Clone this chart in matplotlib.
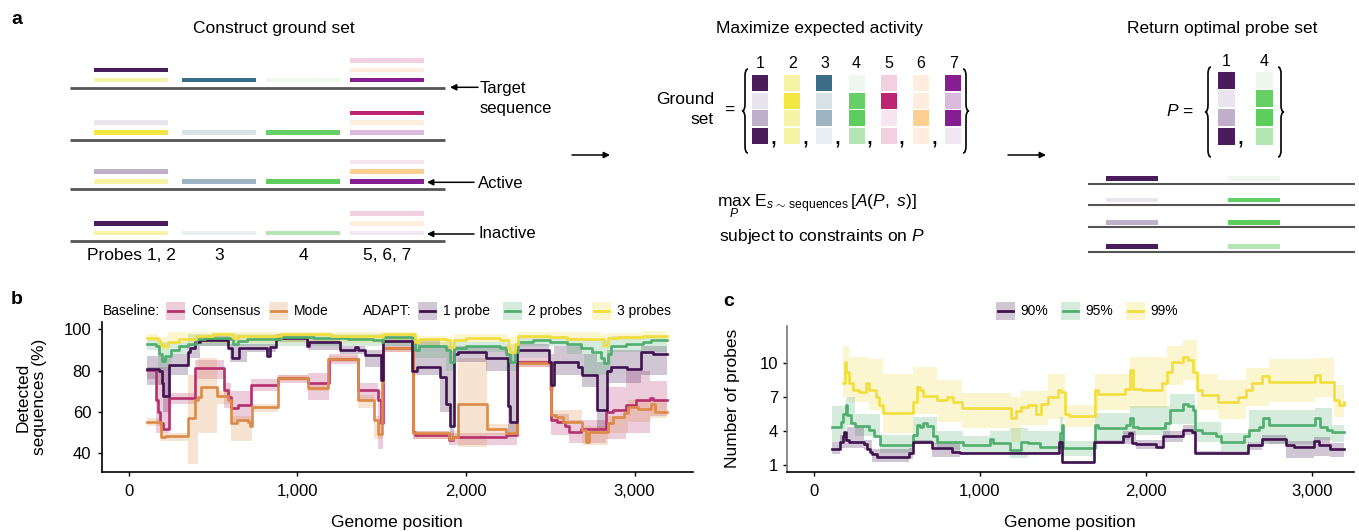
import matplotlib
matplotlib.use("Agg")
import matplotlib.pyplot as plt
from matplotlib.patches import Rectangle, PathPatch
from matplotlib.path import Path

plt.rcParams["font.family"] = ["Liberation Sans", "DejaVu Sans"]
plt.rcParams["mathtext.fontset"] = "custom"
plt.rcParams["mathtext.rm"] = "Liberation Sans"
plt.rcParams["mathtext.it"] = "Liberation Sans:italic"
plt.rcParams["mathtext.bf"] = "Liberation Sans:bold"

# ---------------- panel a: probe activity per target sequence ----------------
probe_ids = [1, 2, 3, 4, 5, 6, 7]
# rows = target sequences, columns = probes 1..7 (darker = more active)
probe_colors = [
    ["#4a1c5b", "#f7f3a6", "#3b6e86", "#eef8ee", "#f2d0e2", "#ffeedd", "#861e91"],
    ["#e9e4ee", "#f2e640", "#d8e3e8", "#66cf66", "#bd2471", "#ffeedd", "#dbbade"],
    ["#bfafc8", "#f7f3a6", "#9db5c2", "#5dcd5e", "#f7e6ef", "#ffce92", "#861e91"],
    ["#4a1c5b", "#f7f3a6", "#e9eef2", "#b3e6b2", "#f2d0e2", "#ffeedd", "#f3e6f3"],
]
# (site on the target, stack level) of each probe
probe_slot = {1: (0, 1), 2: (0, 0), 3: (1, 0), 4: (2, 0), 5: (3, 2), 6: (3, 1), 7: (3, 0)}
site_labels = ["Probes 1, 2", "3", "4", "5, 6, 7"]
chosen = [1, 4]

# ---------------- panel b: detected sequences (%) ----------------
tick_pos = [0, 1000, 2000, 3000]
tick_lab = ["0", "1,000", "2,000", "3,000"]

one_x = [110, 180, 195, 204, 235, 350, 362, 390, 420, 590, 610, 655, 820, 835, 870, 890, 1058, 1070, 1250, 1340,
         1360, 1400, 1495, 1510, 1680, 1710, 1845, 1880, 1905, 1930, 1950, 2120, 2250, 2262, 2305, 2490, 2505,
         2520, 2665, 2690, 2780, 2835, 2860, 2955, 3040, 3110, 3190]
one_y = [81, 80, 74, 67.5, 82.5, 89, 91, 94, 95, 91, 86, 91, 87, 91.5, 95.5, 96, 92, 94, 90, 91.3,
         90, 87.6, 75.5, 94.5, 80, 82, 77, 64, 53, 88, 89, 86, 63, 55, 90, 84, 73,
         84, 82, 78, 61, 80, 82, 81, 89, 88, 88]
one_bx = [110, 200, 250, 350, 420, 600, 700, 870, 1060, 1250, 1400, 1500, 1510, 1680, 1845, 1905, 1930, 2120,
          2250, 2305, 2490, 2520, 2690, 2780, 2835, 3040, 3190]
one_lo = [73, 60, 78, 86, 92, 84, 89, 94, 90, 88, 82, 70, 92, 78, 60, 48, 84, 80, 50, 86, 70, 78, 72, 52, 74, 78, 78]
one_hi = [87, 86, 88, 93, 97, 93, 93, 97.5, 96, 92, 90, 91, 96, 95, 92, 90, 92, 92, 88, 93, 88, 92, 88, 84, 90, 92, 92]

two_x = [110, 160, 180, 195, 215, 250, 300, 350, 400, 450, 600, 620, 650, 700, 900, 1100, 1300, 1450, 1500, 1510,
         1680, 1695, 1720, 1800, 1880, 1905, 1930, 2000, 2200, 2240, 2262, 2290, 2310, 2400, 2500, 2600, 2680,
         2750, 2800, 2820, 2840, 2860, 2950, 3050, 3100, 3190]
two_y = [93, 92, 88, 84.5, 87, 90, 92, 93, 95.5, 96, 95.5, 93, 94.5, 95.5, 96.5, 96, 95.5, 95, 94, 96.5,
         96, 90, 92, 92, 90, 84, 91, 92, 91, 88, 84, 89, 94, 95, 94, 93, 91,
         89, 86, 83.5, 88, 92, 93, 94, 95, 95]
two_bx = [110, 170, 250, 350, 1680, 1695, 1880, 1930, 2240, 2310, 2600, 2700, 2860, 3190]
two_lo = [90, 80, 88, 92, 94, 86, 80, 89, 80, 92, 88, 78, 89, 89]
two_hi = [95, 94, 94, 97.5, 97.5, 94, 94, 94, 93, 97, 96, 95, 97, 97]

three_x = [110, 170, 185, 200, 230, 300, 400, 500, 620, 650, 900, 1200, 1500, 1510, 1680, 1695, 1720, 1880, 1905,
           1930, 2000, 2200, 2250, 2262, 2290, 2310, 2500, 2600, 2800, 2820, 2840, 2900, 3050, 3190]
three_y = [96, 95, 93, 92, 94, 95.5, 97, 97.5, 96, 97, 97.5, 97, 96.5, 97.5, 97.5, 94, 95.5, 95, 91.5,
           95, 96, 95, 91, 89, 93, 97, 96.5, 95.5, 95.5, 92.5, 96, 96.5, 97, 97]
three_bx = [110, 170, 230, 1680, 1695, 1880, 1930, 2250, 2310, 2800, 2840, 3050, 3190]
three_lo = [94.5, 90, 93.5, 96, 92.5, 89.5, 94, 87.5, 95.5, 91, 95, 95.5, 95.5]
three_hi = [97.5, 96.5, 98.5, 99, 97, 96.5, 97.5, 96.5, 98.5, 97.5, 98, 99, 99]

cons_x = [110, 160, 175, 185, 200, 240, 390, 565, 585, 605, 645, 725, 885, 1060, 1190, 1360, 1475, 1495, 1505,
          1685, 1695, 1900, 1920, 2240, 2305, 2505, 2540, 2590, 2610, 2680, 2830, 2870, 2950, 3010, 3090, 3110, 3190]
cons_y = [80.3, 65.8, 60, 54.5, 52, 66.6, 81.5, 70.6, 67.4, 61.8, 63.4, 73.1, 76.3, 74.2, 85.6, 70.6, 65.8, 54.5, 90.8,
          50.5, 49, 46.5, 48, 49, 84, 56, 55, 53, 50.5, 52, 60, 61, 63.4, 65.8, 67, 66, 66]
cons_bx = [110, 160, 240, 390, 565, 605, 725, 885, 1060, 1190, 1360, 1475, 1505, 1685, 1900, 2305, 2505, 2610,
           2830, 2950, 3090, 3190]
cons_lo = [76, 50, 64, 76, 62, 55, 70, 74, 66, 83, 66, 42, 89, 47, 44, 82, 49, 45, 47, 50, 58, 58]
cons_hi = [82, 82, 69, 85, 74, 70, 76, 78, 79, 88, 74, 70, 92, 51, 50, 86, 59, 56, 72, 80, 75, 75]

mode_x = [110, 190, 212, 350, 390, 410, 430, 525, 590, 605, 640, 705, 718, 728, 885, 1062, 1180, 1360, 1455, 1478,
          1500, 1507, 1685, 1705, 1900, 1920, 1950, 2125, 2240, 2305, 2505, 2535, 2575, 2690, 2712, 2730, 2840,
          2870, 2940, 2960, 3020, 3100, 3120, 3190]
mode_y = [55, 48, 48.5, 57, 65.8, 67.4, 72, 67.7, 65.8, 54.8, 56, 55, 53, 62.6, 76.3, 71.5, 85.6, 66, 56, 49.4,
          74.7, 90.8, 49.7, 50, 47, 48, 64, 52, 50, 83.9, 58.5, 57.7, 55.3, 51.3, 45.6, 50.5, 54.5,
          57.7, 59.7, 62.6, 61.3, 64, 60, 60]
mode_bx = [110, 190, 350, 410, 525, 605, 728, 885, 1062, 1180, 1360, 1455, 1507, 1685, 1950, 2125, 2305, 2505,
           2690, 2840, 2960, 3100, 3190]
mode_lo = [53, 46, 35, 50, 64, 46, 60, 75, 70, 84, 62, 47, 89, 47, 43, 49, 82, 55, 44, 50, 55, 57, 57]
mode_hi = [57, 50, 78, 86, 70, 58, 64, 78, 73, 87, 68, 58, 92, 51, 86, 54, 85, 61, 53, 58, 66, 66, 66]

# ---------------- panel c: number of probes ----------------
c90_x = [113, 160, 175, 185, 197, 215, 300, 320, 340, 350, 380, 575, 595, 715, 830, 880, 1475, 1492, 1690, 1860,
         1900, 1915, 1940, 2060, 2105, 2225, 2275, 2295, 2615, 2700, 2845, 2890, 3010, 3040, 3110, 3190]
c90_y = [2.4, 3.0, 3.5, 3.9, 3.2, 3.0, 2.8, 2.4, 2.1, 1.95, 1.65, 2.0, 3.0, 2.45, 2.15, 2.0, 3.0, 1.2, 3.0, 3.5,
         3.8, 2.9, 2.8, 2.6, 3.5, 4.1, 3.9, 2.05, 2.7, 3.3, 2.7, 2.6, 3.1, 2.7, 2.4, 2.4]
c90_bx = [113, 160, 200, 300, 350, 575, 595, 715, 880, 1475, 1492, 1690, 1860, 1940, 2105, 2225, 2295, 2615, 2700,
          2845, 3010, 3110, 3190]
c90_lo = [1.9, 2.5, 2.5, 2.3, 1.2, 1.5, 2.8, 1.7, 1.9, 2.8, 1.1, 2.8, 2.8, 2.4, 3.0, 3.6, 1.9, 2.3, 2.8, 1.6, 1.8, 1.7, 1.7]
c90_hi = [3.0, 3.6, 4.3, 3.2, 2.4, 2.5, 3.2, 2.9, 2.1, 3.2, 1.3, 3.2, 4.0, 3.2, 4.0, 4.5, 2.2, 3.0, 3.6, 3.1, 3.4, 2.9, 2.9]

c95_x = [113, 165, 178, 192, 200, 225, 250, 330, 360, 400, 600, 620, 640, 660, 680, 720, 740, 900, 1060, 1080,
         1180, 1250, 1290, 1360, 1480, 1492, 1502, 1692, 1712, 1880, 1905, 1925, 1955, 2115, 2145, 2225, 2255,
         2285, 2298, 2338, 2420, 2450, 2590, 2620, 2680, 2708, 2740, 3020, 3050, 3092, 3122, 3190]
c95_y = [4.3, 4.8, 5.5, 6.3, 5.4, 4.65, 4.4, 4.06, 3.5, 2.7, 3.6, 4.5, 4.35, 4.65, 4.4, 3.5, 3.0, 2.7, 3.3, 2.9,
         2.3, 3.0, 2.9, 2.6, 3.8, 4.5, 2.5, 4.5, 4.2, 4.5, 5.1, 4.35, 4.2, 4.65, 5.8, 6.4, 6.2,
         5.8, 4.06, 3.76, 3.5, 3.0, 3.5, 4.06, 4.35, 5.1, 4.5, 5.1, 4.35, 4.06, 3.9, 3.9]
c95_bx = [113, 192, 250, 400, 600, 740, 900, 1060, 1180, 1290, 1480, 1502, 1692, 1905, 2145, 2298, 2450, 2620,
          2740, 3020, 3122, 3190]
c95_lo = [3.0, 4.5, 3.5, 2.0, 2.8, 2.3, 2.0, 2.0, 1.6, 2.0, 3.0, 1.8, 3.2, 3.6, 4.6, 3.0, 2.2, 3.0, 2.8, 3.2, 3.0, 3.0]
c95_hi = [6.2, 7.0, 5.5, 3.6, 5.2, 4.0, 3.5, 4.0, 4.2, 4.0, 5.2, 3.1, 5.6, 6.2, 7.2, 4.8, 3.8, 5.8, 5.8, 6.0, 4.5, 4.5]

c99_x = [179, 187, 195, 215, 235, 275, 315, 335, 375, 395, 415, 600, 620, 640, 660, 740, 800, 840, 890, 1190,
         1220, 1250, 1290, 1340, 1370, 1410, 1470, 1490, 1510, 1540, 1692, 1712, 1875, 1905, 1925, 1975, 2095,
         2125, 2155, 2225, 2255, 2285, 2305, 2335, 2435, 2555, 2600, 2640, 2700, 2740, 3020, 3050, 3130, 3160, 3190]
c99_y = [8.2, 10.1, 9.2, 8.2, 7.6, 7.45, 8.2, 7.6, 7.0, 6.3, 5.6, 6.56, 7.9, 7.6, 7.06, 6.7, 7.0, 6.5, 6.0, 5.1,
         5.7, 6.1, 6.26, 5.5, 6.4, 7.0, 7.6, 7.45, 5.5, 5.3, 7.6, 7.2, 7.7, 9.35, 7.7, 7.6, 8.2,
         9.2, 10.1, 10.5, 10.2, 9.2, 7.6, 7.15, 6.56, 7.0, 7.6, 8.2, 8.8, 8.3, 8.9, 8.3, 6.7, 6.26, 6.55]
c99_bx = [179, 215, 335, 415, 600, 740, 890, 1190, 1250, 1410, 1510, 1692, 1905, 2125, 2225, 2305, 2435, 2600,
          2740, 3020, 3130, 3190]
c99_lo = [7.0, 6.5, 5.8, 3.8, 5.5, 4.8, 4.2, 3.0, 4.5, 5.0, 4.3, 5.8, 6.0, 8.0, 8.5, 5.8, 5.0, 6.2, 6.5, 7.0, 5.2, 5.2]
c99_hi = [11.5, 10.5, 10.3, 9.0, 9.6, 8.5, 7.3, 7.0, 7.5, 9.0, 6.3, 9.0, 10.5, 11.5, 12.0, 9.0, 8.5, 9.5, 10.3, 10.4, 8.0, 8.0]

PURPLE, GREEN, YELLOW = "#40124f", "#50ad6e", "#f2dd3c"
PINK, ORANGE = "#b5306d", "#dc8a45"

W, H = 1359, 532
fig = plt.figure(figsize=(W / 100, H / 100), dpi=100)
ax0 = fig.add_axes([0, 0, 1, 1])
ax0.set_xlim(0, W)
ax0.set_ylim(H, 0)
ax0.axis("off")


def arrow(x0, x1, y, lw=1.1):
    ax0.annotate("", xy=(x1, y), xytext=(x0, y),
                 arrowprops=dict(arrowstyle="-|>", color="black", lw=lw, mutation_scale=9,
                                 shrinkA=0, shrinkB=0))


def brace(x, y0, y1, s, w=6, r=7):
    m = (y0 + y1) / 2
    verts = [(x + s * w / 2, y0), (x, y0), (x, y0 + r), (x, m - r), (x, m), (x - s * w / 2, m),
             (x, m), (x, m + r), (x, y1 - r), (x, y1), (x + s * w / 2, y1)]
    codes = [Path.MOVETO, Path.CURVE3, Path.CURVE3, Path.LINETO, Path.CURVE3, Path.CURVE3,
             Path.CURVE3, Path.CURVE3, Path.LINETO, Path.CURVE3, Path.CURVE3]
    ax0.add_patch(PathPatch(Path(verts, codes), fill=False, lw=1.2, color="black"))


# panel letters
ax0.text(17, 20, "a", fontsize=14, fontweight="bold", ha="center", va="center")
ax0.text(17, 300, "b", fontsize=14, fontweight="bold", ha="center", va="center")
ax0.text(729, 302, "c", fontsize=14, fontweight="bold", ha="center", va="center")

# --- construct ground set ---
ax0.text(274, 29, "Construct ground set", fontsize=12.5, ha="center", va="center")
seq_y = [87.7, 140.3, 189.3, 241]
site_x = [94, 182, 266, 350]
site_w = 74
for i, ly in enumerate(seq_y):
    ax0.plot([70, 445], [ly, ly], color="#555555", lw=2, solid_capstyle="butt")
    for p in probe_ids:
        site, level = probe_slot[p]
        yc = ly - 7.8 - 9.8 * level
        ax0.add_patch(Rectangle((site_x[site], yc - 2.3), site_w, 4.6, color=probe_colors[i][p - 1], lw=0))
for k, lab in enumerate(site_labels):
    ax0.text(site_x[k] + site_w / 2, 256, lab, fontsize=12.5, ha="center", va="center")

arrow(478, 450, 87.3)
ax0.text(480, 88, "Target", fontsize=12, ha="left", va="center")
ax0.text(480, 108, "sequence", fontsize=12, ha="left", va="center")
arrow(474, 427, 182.3)
ax0.text(478, 183, "Active", fontsize=12, ha="left", va="center")
arrow(474, 427, 234)
ax0.text(478, 234, "Inactive", fontsize=12, ha="left", va="center")

arrow(572, 610, 155)
arrow(1008, 1046, 155)

# --- maximize expected activity ---
ax0.text(819, 29, "Maximize expected activity", fontsize=12.5, ha="center", va="center")
ax0.text(714, 99, "Ground", fontsize=12.5, ha="right", va="center")
ax0.text(714, 120, "set", fontsize=12.5, ha="right", va="center")
ax0.text(729, 110, "=", fontsize=12.5, ha="center", va="center")
brace(745, 69, 153, 1)
brace(966, 69, 153, -1)
for j, p in enumerate(probe_ids):
    x0 = 752 + 32.2 * j
    ax0.text(x0 + 8, 63, str(p), fontsize=11.5, ha="center", va="center")
    for i in range(4):
        ax0.add_patch(Rectangle((x0, 75 + 17.6 * i), 16, 16.2, color=probe_colors[i][p - 1], lw=0))
    if j < len(probe_ids) - 1:
        ax0.text(x0 + 17, 145, ",", fontsize=20, ha="left", va="baseline")

ax0.text(717, 206, r"$\max_{P}\ \mathrm{E}_{s\ \sim\ \mathrm{sequences}}[A(P,\ s)]$",
         fontsize=12.5, ha="left", va="baseline")
ax0.text(822, 237, r"subject to constraints on $P$", fontsize=12.5, ha="center", va="center")

# --- return optimal probe set ---
ax0.text(1222, 29, "Return optimal probe set", fontsize=12.5, ha="center", va="center")
ax0.text(1194, 111, r"$P$ =", fontsize=12.5, ha="right", va="center")
brace(1208, 67, 157, 1)
brace(1281, 67, 157, -1)
for j, p in enumerate(chosen):
    x0 = 1218 + 38 * j
    ax0.text(x0 + 8.5, 62, str(p), fontsize=11.5, ha="center", va="center")
    for i in range(4):
        ax0.add_patch(Rectangle((x0, 71.7 + 18.6 * i), 17, 17, color=probe_colors[i][p - 1], lw=0))
    if j < len(chosen) - 1:
        ax0.text(x0 + 18, 145, ",", fontsize=20, ha="left", va="baseline")

opt_y = [183.7, 205, 227.3, 251.7]
opt_x = [1106, 1228]
for i, ly in enumerate(opt_y):
    ax0.plot([1088, 1355], [ly, ly], color="#555555", lw=1.5, solid_capstyle="butt")
    for k, p in enumerate(chosen):
        ax0.add_patch(Rectangle((opt_x[k], ly - 7.3), 52, 4.6, color=probe_colors[i][p - 1], lw=0))


# ---------------- panels b and c ----------------
def px_axes(l, t, r, b):
    return fig.add_axes([l / W, 1 - b / H, (r - l) / W, (b - t) / H])


def style(ax, ypad, lcol):
    for s in ("top", "right"):
        ax.spines[s].set_visible(False)
    ax.spines["bottom"].set_linewidth(1.2)
    ax.spines["left"].set_linewidth(1.2)
    ax.spines["left"].set_color(lcol)
    ax.tick_params(axis="both", length=3, width=1, labelsize=12)
    ax.tick_params(axis="x", pad=6)
    ax.tick_params(axis="y", pad=ypad)
    ax.set_xticks(tick_pos)
    ax.set_xticklabels(tick_lab)


def series(ax, x, y, bx, lo, hi, color, lw=1.9):
    ax.fill_between(bx, lo, hi, step="post", color=color, alpha=0.24, lw=0)
    ax.step(x, y, where="post", color=color, lw=lw)


axb = px_axes(102.3, 322.3, 692.7, 471.7)
style(axb, 5, "black")
series(axb, cons_x, cons_y, cons_bx, cons_lo, cons_hi, PINK)
series(axb, mode_x, mode_y, mode_bx, mode_lo, mode_hi, ORANGE)
series(axb, one_x, one_y, one_bx, one_lo, one_hi, PURPLE)
series(axb, two_x, two_y, two_bx, two_lo, two_hi, GREEN)
series(axb, three_x, three_y, three_bx, three_lo, three_hi, YELLOW)
axb.set_xlim(-158, 3345)
axb.set_ylim(31.1, 103.4)
axb.set_yticks([40, 60, 80, 100])

axc = px_axes(787.3, 325.7, 1354, 471.7)
style(axc, 3.5, "#777777")
series(axc, c99_x, c99_y, c99_bx, c99_lo, c99_hi, YELLOW)
series(axc, c95_x, c95_y, c95_bx, c95_lo, c95_hi, GREEN)
series(axc, c90_x, c90_y, c90_bx, c90_lo, c90_hi, PURPLE)
axc.set_xlim(-159, 3253)
axc.set_ylim(0.38, 13.27)
axc.set_yticks([1, 4, 7, 10])

ax0.text(31, 397, "Detected\nsequences (%)", fontsize=12.5, rotation=90, ha="center", va="center",
         multialignment="center", linespacing=1.1)
ax0.text(397, 523, "Genome position", fontsize=12.5, ha="center", va="center")
ax0.text(733, 398, "Number of probes", fontsize=12.5, rotation=90, ha="center", va="center")
ax0.text(1070, 523, "Genome position", fontsize=12.5, ha="center", va="center")


# legends
def swatch(x, y, color):
    ax0.add_patch(Rectangle((x, y - 9), 18.5, 18, color=color, alpha=0.24, lw=0))
    ax0.plot([x + 1.5, x + 17], [y, y], color=color, lw=2)


ly = 310.7
ax0.text(103, ly, "Baseline:", fontsize=10, ha="left", va="center")
for sx, col, lab in [(166, PINK, "Consensus"), (269, ORANGE, "Mode"), (418, PURPLE, "1 probe"),
                     (503, GREEN, "2 probes"), (592, YELLOW, "3 probes")]:
    swatch(sx, ly, col)
    ax0.text(sx + 25, ly, lab, fontsize=10, ha="left", va="center")
ax0.text(363, ly, "ADAPT:", fontsize=10, ha="left", va="center")
for sx, col, lab in [(996, PURPLE, "90%"), (1061, GREEN, "95%"), (1126, YELLOW, "99%")]:
    swatch(sx, ly, col)
    ax0.text(sx + 24, ly, lab, fontsize=10, ha="left", va="center")

fig.savefig("out.png", dpi=100)
